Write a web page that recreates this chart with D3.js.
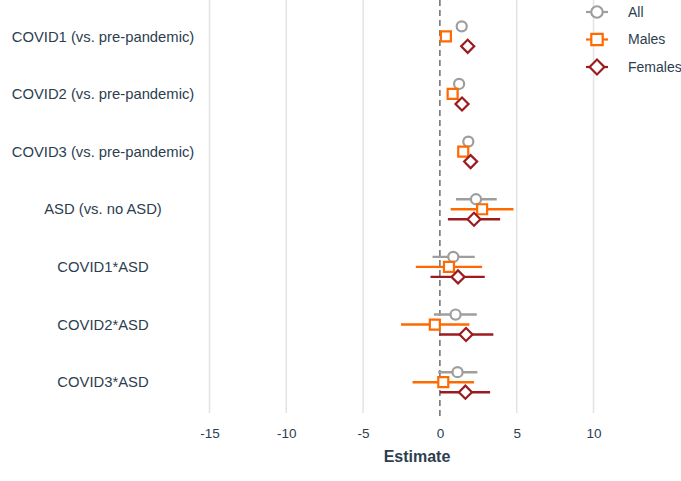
<!DOCTYPE html>
<html><head><meta charset="utf-8">
<script src="https://cdn.jsdelivr.net/npm/d3@7"></script>
<style>body{margin:0;background:#fff;}svg{display:block;}</style>
</head><body>
<svg id="c" width="681" height="481"></svg>
<script>
const categories = ["COVID1 (vs. pre-pandemic)","COVID2 (vs. pre-pandemic)","COVID3 (vs. pre-pandemic)","ASD (vs. no ASD)","COVID1*ASD","COVID2*ASD","COVID3*ASD"];
const seriesNames = ["All","Males","Females"];
const allEst   = [1.42, 1.25, 1.85, 2.35, 0.87, 1.02, 1.15];
const allLo    = [1.30, 1.12, 1.72, 1.05, -0.48, -0.39, -0.11];
const allHi    = [1.55, 1.38, 1.98, 3.70, 2.27, 2.40, 2.44];
const maleEst  = [0.39, 0.83, 1.52, 2.75, 0.59, -0.33, 0.22];
const maleLo   = [0.22, 0.66, 1.35, 0.70, -1.57, -2.53, -1.78];
const maleHi   = [0.56, 1.00, 1.69, 4.79, 2.75, 1.92, 2.22];
const femEst   = [1.81, 1.44, 2.00, 2.22, 1.18, 1.70, 1.66];
const femLo    = [1.64, 1.27, 1.83, 0.52, -0.61, -0.04, 0.00];
const femHi    = [1.98, 1.61, 2.17, 3.92, 2.92, 3.48, 3.27];
const xTicks = [-15,-10,-5,0,5,10];
const xTickLabels = ["-15","-10","-5","0","5","10"];
const xTitle = "Estimate";

const colors = ["#9e9e9e","#ff6a00","#9b1b1f"];
const shapes = [d3.symbolCircle, d3.symbolSquare, d3.symbolSquare];
const rot = [0, 0, 45];
const sizes = [80, 100, 85];
const textColor = "#2c3e50";
const font = "'Liberation Sans', Arial, Helvetica, sans-serif";

const svg = d3.select("#c");
const x = d3.scaleLinear().domain([-15,10]).range([209.5,593.5]);
const y = d3.scaleBand().domain(categories).range([7.5,411]).paddingInner(0).paddingOuter(0);
const sub = d3.scalePoint().domain(seriesNames).range([-10,10]);

// gridlines
svg.append("g").selectAll("line").data(xTicks.filter(t=>t!==0)).join("line")
  .attr("x1",d=>x(d)).attr("x2",d=>x(d)).attr("y1",0).attr("y2",413)
  .attr("stroke","#e3e3e3").attr("stroke-width",1.5);
// zero line
svg.append("line").attr("x1",x(0)).attr("x2",x(0)).attr("y1",0).attr("y2",416)
  .attr("stroke","#555").attr("stroke-width",1.3).attr("stroke-dasharray","6,4");

// x axis tick labels
const xAxis = d3.axisBottom(x).tickValues(xTicks).tickFormat((d,i)=>xTickLabels[i]).tickSize(0).tickPadding(0);
const gx = svg.append("g").attr("transform","translate(0,428)").call(xAxis);
gx.select(".domain").remove();
gx.selectAll("text").attr("fill",textColor).attr("font-family",font).attr("font-size",13.5).attr("dy","0.71em");

svg.append("text").attr("x",417).attr("y",462).attr("text-anchor","middle")
  .attr("fill",textColor).attr("font-family",font).attr("font-size",16).attr("font-weight","bold").text(xTitle);

// y labels
svg.append("g").selectAll("text").data(categories).join("text")
  .attr("x",103).attr("y",d=>y(d)+y.bandwidth()/2).attr("dy","0.35em").attr("text-anchor","middle")
  .attr("fill",textColor).attr("font-family",font).attr("font-size",14.8).text(d=>d);

const series = [
  {name:"All", est:allEst, lo:allLo, hi:allHi},
  {name:"Males", est:maleEst, lo:maleLo, hi:maleHi},
  {name:"Females", est:femEst, lo:femLo, hi:femHi}
];
series.forEach((s,si)=>{
  const g = svg.append("g");
  const rows = categories.map((c,i)=>({c, est:s.est[i], lo:s.lo[i], hi:s.hi[i]}));
  const yy = d=>y(d.c)+y.bandwidth()/2+sub(s.name);
  g.selectAll("line").data(rows).join("line")
    .attr("x1",d=>x(d.lo)).attr("x2",d=>x(d.hi)).attr("y1",yy).attr("y2",yy)
    .attr("stroke",colors[si]).attr("stroke-width",2.4);
  g.selectAll("path").data(rows).join("path")
    .attr("d",d3.symbol().type(shapes[si]).size(sizes[si]))
    .attr("transform",d=>`translate(${x(d.est)},${yy(d)}) rotate(${rot[si]})`)
    .attr("fill","#fff").attr("stroke",colors[si]).attr("stroke-width",2.2);
});

// legend
const lg = svg.append("g");
seriesNames.forEach((n,i)=>{
  const ly = 12 + i*27.5;
  lg.append("line").attr("x1",586).attr("x2",608).attr("y1",ly).attr("y2",ly).attr("stroke",colors[i]).attr("stroke-width",2.2);
  lg.append("path").attr("d",d3.symbol().type(shapes[i]).size(sizes[i]*1.3)).attr("transform",`translate(597,${ly}) rotate(${rot[i]})`)
    .attr("fill","#fff").attr("stroke",colors[i]).attr("stroke-width",2.2);
  lg.append("text").attr("x",628).attr("y",ly).attr("dy","0.35em").attr("fill",textColor)
    .attr("font-family",font).attr("font-size",14).text(n);
});
</script>
</body></html>
